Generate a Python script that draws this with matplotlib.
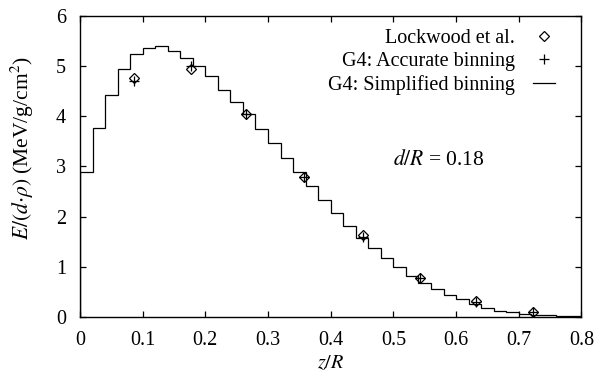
"""
Energy deposition profile along the beam axis: G4 simulation vs. Lockwood data.
"""

import numpy as np
import matplotlib
matplotlib.use('Agg')
import matplotlib.pyplot as plt

plt.rcParams['font.family'] = ['Liberation Serif', 'DejaVu Serif']
plt.rcParams['mathtext.fontset'] = 'stix'
plt.rcParams['font.size'] = 14.5

# G4 simplified binning: histogram over z/R, bins of 0.02
bin_edges = np.linspace(0.0, 0.8, 41)
simplified = [2.89, 3.76, 4.42, 4.94, 5.25, 5.37, 5.40, 5.31, 5.17, 5.01,
              4.80, 4.53, 4.29, 4.04, 3.74, 3.46, 3.17, 2.89, 2.61, 2.34,
              2.07, 1.81, 1.58, 1.37, 1.18, 0.99, 0.82, 0.68, 0.55, 0.44,
              0.35, 0.25, 0.17, 0.12, 0.09, 0.065, 0.045, 0.03, 0.02, 0.01]

# Lockwood et al. measurements
lockwood_z = [0.086, 0.177, 0.265, 0.357, 0.452, 0.543, 0.631, 0.723]
lockwood_e = [4.77, 4.95, 4.04, 2.79, 1.63, 0.77, 0.31, 0.09]

# G4 accurate binning
accurate_z = [0.086, 0.177, 0.265, 0.357, 0.452, 0.543, 0.631, 0.723]
accurate_e = [4.71, 5.00, 4.05, 2.80, 1.60, 0.77, 0.30, 0.09]

fig = plt.figure(figsize=(6.0, 3.81), dpi=100)
ax = fig.add_axes([0.1333, 0.168, 0.8358, 0.790])

ax.plot(lockwood_z, lockwood_e, linestyle='none', marker='D', ms=5.5,
        mfc='none', mec='black', mew=0.9, label='Lockwood et al.')
ax.plot(accurate_z, accurate_e, linestyle='none', marker='+', ms=7,
        color='black', mew=0.9, label='G4: Accurate binning')
ax.stairs(simplified, bin_edges, color='black', lw=0.9,
          label='G4: Simplified binning')

ax.set_xlim(0, 0.8)
ax.set_ylim(0, 6)
ax.set_xticks(np.arange(0, 0.81, 0.1))
ax.set_yticks(np.arange(0, 7, 1))
ax.set_xticklabels(['0', '0.1', '0.2', '0.3', '0.4', '0.5', '0.6', '0.7', '0.8'])
ax.tick_params(direction='in', top=True, right=True, length=4.5, width=0.9)
ax.tick_params(axis='x', pad=10)
ax.tick_params(axis='y', pad=10)
for s in ax.spines.values():
    s.set_linewidth(1.0)

ax.set_xlabel(r'$z/R$', labelpad=3)
ax.set_ylabel(r'$E/(d{\cdot}\rho)$ (MeV/g/cm$^2$)', fontsize=15.5)
ax.yaxis.set_label_coords(-0.088, 0.56)

ax.text(0.50, 3.13, r'$d/R$ = 0.18', va='center', ha='left', fontsize=15.5)

ax.legend(loc='upper right', bbox_to_anchor=(0.975, 1.005), frameon=False,
          markerfirst=False, handlelength=1.1, handletextpad=0.9,
          labelspacing=0.2, borderpad=0.2)

fig.savefig('out.png', dpi=100)
